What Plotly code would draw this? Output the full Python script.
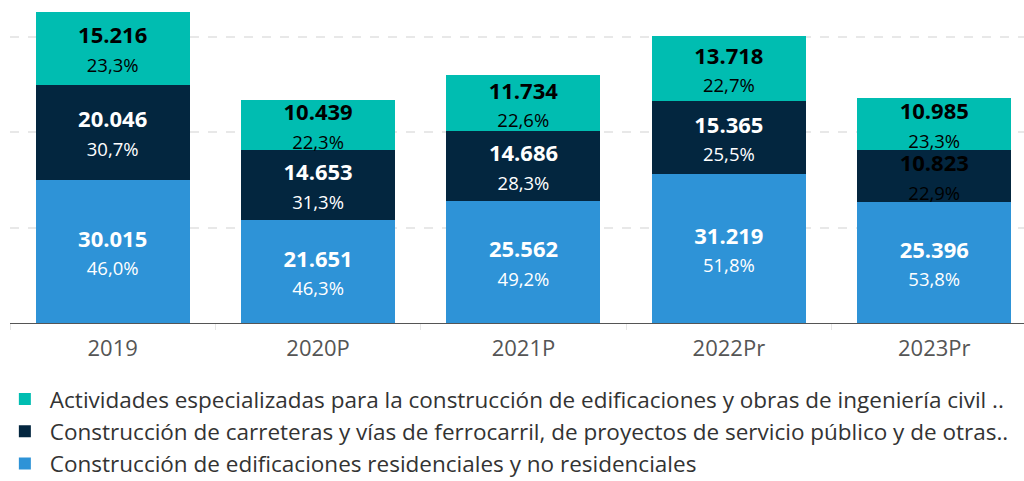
import plotly.graph_objects as go

years = ["2019", "2020P", "2021P", "2022Pr", "2023Pr"]
residencial = [30015, 21651, 25562, 31219, 25396]
carreteras = [20046, 14653, 14686, 15365, 10823]
especializadas = [15216, 10439, 11734, 13718, 10985]

names = [
    "Construcción de edificaciones residenciales y no residenciales",
    "Construcción de carreteras y vías de ferrocarril, de proyectos de servicio público y de otras..",
    "Actividades especializadas para la construcción de edificaciones y obras de ingeniería civil ..",
]

BLUE = "#2E93D7"
NAVY = "#03263F"
TEAL = "#00BDB1"

totals = [a + b + c for a, b, c in zip(residencial, carreteras, especializadas)]


def labels(values):
    out = []
    for v, t in zip(values, totals):
        num = f"{v:,}".replace(",", ".")
        pct = f"{v / t * 100:.1f}".replace(".", ",")
        out.append(f"<b>{num}</b><br><span style='font-size:18.5px'>{pct}%</span>")
    return out


series = [
    (residencial, BLUE, ["white"] * 5),
    (carreteras, NAVY, ["white"] * 4 + ["black"]),
    (especializadas, TEAL, ["black"] * 5),
]

fig = go.Figure()
for (vals, color, txtcol), name in zip(series, names):
    fig.add_trace(go.Bar(
        x=years,
        y=vals,
        name=name,
        legendgroup=name,
        marker=dict(color=color, line=dict(width=0)),
        width=0.75,
        text=labels(vals),
        textposition="inside",
        insidetextanchor="middle",
        constraintext="none",
        textfont=dict(size=22, color=txtcol, family="Open Sans"),
        hoverinfo="skip",
    ))

fig.update_layout(
    barmode="stack",
    width=1024,
    height=481,
    margin=dict(l=10, r=0, t=0, b=158, autoexpand=False),
    plot_bgcolor="white",
    paper_bgcolor="white",
    font=dict(family="Open Sans", color="#333333"),
    showlegend=True,
    legend=dict(
        orientation="v",
        traceorder="reversed",
        x=-0.01,
        xanchor="left",
        y=-0.17,
        yanchor="top",
        font=dict(size=22.5, color="#333333"),
        tracegroupgap=8,
        itemwidth=40,
    ),
    xaxis=dict(
        range=[-0.5, 4.437],
        showline=True,
        linecolor="#555555",
        linewidth=1,
        ticks="outside",
        tickson="boundaries",
        ticklen=6,
        tickcolor="#e6e6e6",
        ticklabelstandoff=6,
        tickfont=dict(size=22, color="#555555"),
        showgrid=False,
    ),
    yaxis=dict(
        range=[0, 67800],
        tickvals=[20000, 40000, 60000],
        showticklabels=False,
        showgrid=True,
        gridcolor="#e8e8e8",
        griddash="dash",
        gridwidth=2,
        zeroline=False,
    ),
)

fig.write_html(
    "out.html",
    config={"displayModeBar": False},
    post_script="document.body.style.margin='0';",
)
